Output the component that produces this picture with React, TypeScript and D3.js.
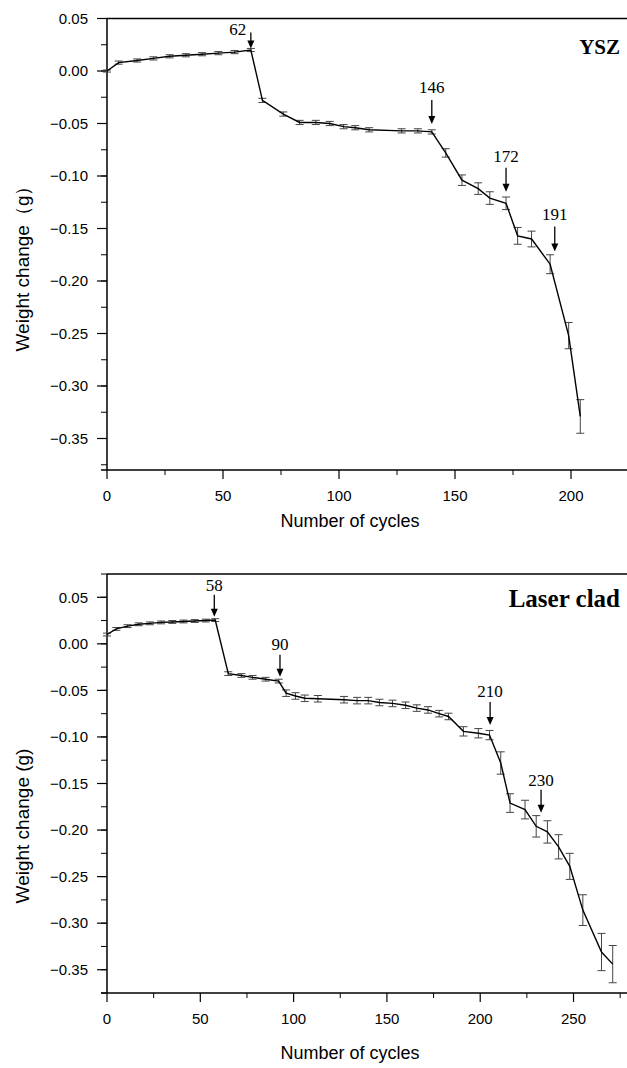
import React from "react";
import * as d3 from "d3";

// ---------- Data: YSZ (top panel) ----------
const yszCycles = [0, 5, 13, 20, 27, 34, 41, 48, 55, 62, 67, 76, 83, 90, 96, 102, 107, 113, 127, 134, 140, 146, 153, 160, 165, 172, 177, 183, 191, 199, 204];
const yszValues = [0, 0.008, 0.010, 0.012, 0.014, 0.015, 0.016, 0.017, 0.018, 0.020, -0.028, -0.041, -0.049, -0.049, -0.050, -0.053, -0.054, -0.056, -0.057, -0.057, -0.058, -0.078, -0.104, -0.112, -0.121, -0.126, -0.157, -0.160, -0.184, -0.252, -0.329];
const yszErrors = [0.001, 0.0015, 0.0015, 0.0015, 0.0015, 0.0015, 0.0015, 0.0015, 0.0015, 0.0015, 0.002, 0.002, 0.002, 0.002, 0.002, 0.002, 0.002, 0.002, 0.002, 0.002, 0.002, 0.004, 0.005, 0.0055, 0.006, 0.006, 0.008, 0.0075, 0.009, 0.0125, 0.016];
const yszMarkLabels = ["62", "146", "172", "191"];
const yszMarkCycles = [62, 140, 172, 193];
const yszMarkValues = [0.0215, -0.0505, -0.115, -0.172];

// ---------- Data: Laser clad (bottom panel) ----------
const cladCycles = [0, 5, 11, 17, 23, 29, 35, 41, 47, 53, 58, 65, 72, 78, 85, 92, 96, 101, 106, 113, 127, 134, 140, 146, 153, 160, 166, 172, 178, 183, 191, 199, 205, 211, 216, 224, 230, 236, 242, 248, 255, 265, 271];
const cladValues = [0.010, 0.016, 0.019, 0.021, 0.022, 0.023, 0.0235, 0.024, 0.0245, 0.025, 0.0255, -0.032, -0.034, -0.036, -0.038, -0.040, -0.053, -0.056, -0.0585, -0.059, -0.060, -0.061, -0.061, -0.063, -0.064, -0.066, -0.069, -0.071, -0.075, -0.078, -0.094, -0.096, -0.098, -0.128, -0.171, -0.178, -0.196, -0.202, -0.218, -0.239, -0.286, -0.331, -0.344];
const cladErrors = [0.0015, 0.0015, 0.0015, 0.0015, 0.0015, 0.0015, 0.0015, 0.0015, 0.0015, 0.0015, 0.0015, 0.002, 0.002, 0.002, 0.002, 0.002, 0.0035, 0.0035, 0.0035, 0.0035, 0.0035, 0.0035, 0.0035, 0.0035, 0.0035, 0.0035, 0.0035, 0.0035, 0.0035, 0.0035, 0.005, 0.005, 0.005, 0.012, 0.010, 0.010, 0.0115, 0.012, 0.013, 0.014, 0.0165, 0.020, 0.020];
const cladMarkLabels = ["58", "90", "210", "230"];
const cladMarkCycles = [57.5, 92.7, 205.3, 232.6];
const cladMarkValues = [0.0291, -0.0353, -0.0872, -0.1814];

// ---------- Tick labels ----------
const yTickValues = [0.05, 0, -0.05, -0.1, -0.15, -0.2, -0.25, -0.3, -0.35];
const yszXTicks = [0, 50, 100, 150, 200];
const cladXTicks = [0, 50, 100, 150, 200, 250];

const SANS = "'Liberation Sans', Arial, sans-serif";
const SERIF = "'Liberation Serif', 'Times New Roman', serif";

type PanelProps = {
  cycles: number[];
  values: number[];
  errors: number[];
  markLabels: string[];
  markCycles: number[];
  markValues: number[];
  xDomain: [number, number];
  xRange: [number, number];
  yDomain: [number, number];
  yRange: [number, number];
  xTicks: number[];
  title: string;
  titleY: number;
  titleSize: number;
  yLabel: string;
  yLabelY: number;
  xLabelY: number;
  markDx?: number[];
  markLen?: number[];
  markGap?: number[];
};

function Panel(p: PanelProps) {
  const x = d3.scaleLinear().domain(p.xDomain).range(p.xRange);
  const y = d3.scaleLinear().domain(p.yDomain).range(p.yRange);
  const left = p.xRange[0];
  const right = 627;
  const top = p.yRange[1];
  const bottom = p.yRange[0];
  const pts = p.cycles.map((c, i) => [c, p.values[i]] as [number, number]);
  const line = d3.line<[number, number]>().x((d) => x(d[0])).y((d) => y(d[1]));

  const minorY: number[] = [];
  for (let v = -0.375; v <= p.yDomain[1] + 1e-9; v += 0.025) {
    const r = Math.round(v * 1000) / 1000;
    if (r >= p.yDomain[0] - 1e-9) minorY.push(r);
  }
  const minorX: number[] = [];
  for (let v = 25; v <= p.xDomain[1]; v += 50) minorX.push(v);

  return (
    <g>
      {/* frame */}
      <line x1={left} x2={right} y1={top} y2={top} stroke="#000" strokeWidth={1.5} />
      <line x1={left} x2={left} y1={top} y2={bottom} stroke="#000" strokeWidth={1.5} />
      <line x1={left - 6} x2={right} y1={bottom} y2={bottom} stroke="#000" strokeWidth={1.5} />
      {/* y ticks */}
      {minorY.map((v) => (
        <line key={"my" + v} x1={left - 6} x2={left} y1={y(v)} y2={y(v)} stroke="#000" strokeWidth={1} />
      ))}
      {yTickValues.map((v) => (
        <g key={"y" + v}>
          <line x1={left - 10} x2={left} y1={y(v)} y2={y(v)} stroke="#000" strokeWidth={1.2} />
          <text x={left - 19} y={y(v)} dy="0.35em" textAnchor="end" fontFamily={SANS} fontSize={15}>
            {d3.format(".2f")(v)}
          </text>
        </g>
      ))}
      {/* x ticks */}
      {minorX.map((v) => (
        <line key={"mx" + v} x1={x(v)} x2={x(v)} y1={bottom} y2={bottom + 5} stroke="#000" strokeWidth={1} />
      ))}
      {p.xTicks.map((v) => (
        <g key={"x" + v}>
          <line x1={x(v)} x2={x(v)} y1={bottom} y2={bottom + 9} stroke="#000" strokeWidth={1.2} />
          <text x={x(v)} y={bottom + 26} dy="0.35em" textAnchor="middle" fontFamily={SANS} fontSize={15}>
            {v}
          </text>
        </g>
      ))}
      {/* axis titles */}
      <text x={350} y={p.xLabelY} dy="0.35em" textAnchor="middle" fontFamily={SANS} fontSize={18}>
        Number of cycles
      </text>
      <text
        transform={`translate(22,${p.yLabelY}) rotate(-90)`}
        dy="0.35em"
        textAnchor="middle"
        fontFamily={SANS}
        fontSize={19}
      >
        {p.yLabel}
      </text>
      {/* error bars */}
      {pts.map((d, i) => {
        const cx = x(d[0]);
        const y1 = y(d[1] + p.errors[i]);
        const y2 = y(d[1] - p.errors[i]);
        return (
          <g key={"e" + i} stroke="#444" strokeWidth={1}>
            <line x1={cx} x2={cx} y1={y1} y2={y2} />
            <line x1={cx - 4} x2={cx + 4} y1={y1} y2={y1} />
            <line x1={cx - 4} x2={cx + 4} y1={y2} y2={y2} />
          </g>
        );
      })}
      {/* line */}
      <path d={line(pts) || ""} fill="none" stroke="#000" strokeWidth={1.4} />
      {/* annotations */}
      {p.markLabels.map((lab, i) => {
        const ax = x(p.markCycles[i]);
        const tip = y(p.markValues[i]);
        const len = p.markLen ? p.markLen[i] : 23;
        const dx = p.markDx ? p.markDx[i] : 0;
        const gap = p.markGap ? p.markGap[i] : 5;
        return (
          <g key={"m" + i}>
            <line x1={ax} x2={ax} y1={tip - len} y2={tip - 6} stroke="#000" strokeWidth={1.3} />
            <path d={`M${ax - 3.5},${tip - 8} L${ax + 3.5},${tip - 8} L${ax},${tip} Z`} fill="#000" />
            <text x={ax + dx} y={tip - len - gap} textAnchor="middle" fontFamily={SERIF} fontSize={17}>
              {lab}
            </text>
          </g>
        );
      })}
      <text x={620} y={p.titleY} textAnchor="end" fontFamily={SERIF} fontWeight="bold" fontSize={p.titleSize}>
        {p.title}
      </text>
    </g>
  );
}

export default function App() {
  return (
    <svg
      width={627}
      height={1068}
      viewBox="0 0 627 1068"
      style={{ position: "absolute", left: 0, top: 0, background: "#fff" }}
    >
      <rect width={627} height={1068} fill="#fff" />
      <Panel
        cycles={yszCycles}
        values={yszValues}
        errors={yszErrors}
        markLabels={yszMarkLabels}
        markCycles={yszMarkCycles}
        markValues={yszMarkValues}
        markDx={[-13, 0, 0, 0]}
        markLen={[16, 24, 24, 25]}
        markGap={[-3, 7, 6, 7]}
        xDomain={[0, 225]}
        xRange={[107, 629]}
        yDomain={[-0.38, 0.05]}
        yRange={[470, 18.5]}
        xTicks={yszXTicks}
        title="YSZ"
        titleY={54}
        titleSize={21}
        yLabel="Weight change（g）"
        yLabelY={264}
        xLabelY={521}
      />
      <Panel
        cycles={cladCycles}
        values={cladValues}
        errors={cladErrors}
        markLabels={cladMarkLabels}
        markCycles={cladMarkCycles}
        markValues={cladMarkValues}
        markLen={[22, 22, 23, 23]}
        markGap={[4, 5, 5, 4]}
        xDomain={[0, 280]}
        xRange={[107, 629.5]}
        yDomain={[-0.375, 0.075]}
        yRange={[993, 574]}
        xTicks={cladXTicks}
        title="Laser clad"
        titleY={607}
        titleSize={25}
        yLabel="Weight change (g)"
        yLabelY={826}
        xLabelY={1053}
      />
    </svg>
  );
}
